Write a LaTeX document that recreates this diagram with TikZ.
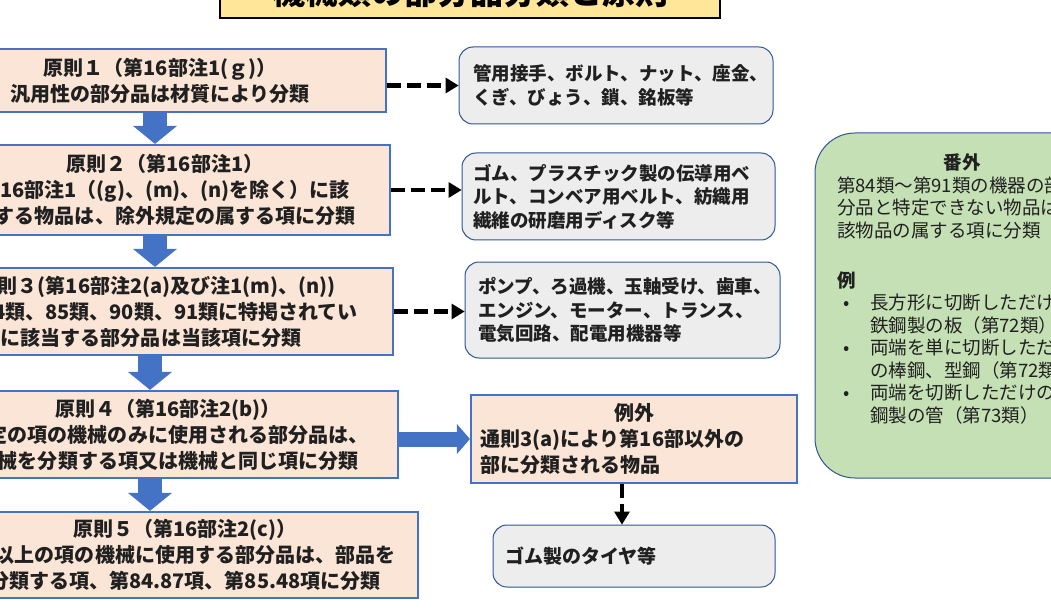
\documentclass[tikz,border=0pt]{standalone}
\usepackage{fontspec}
\setmainfont{Noto Sans CJK JP}
\usepackage{tikz}
\usetikzlibrary{arrows.meta}
\definecolor{peach}{HTML}{FBE5D6}
\definecolor{ruleblue}{HTML}{4472C4}
\definecolor{edgeblue}{HTML}{2F5597}
\definecolor{sgray}{HTML}{EDEDED}
\definecolor{bgreen}{HTML}{C5E0B4}
\definecolor{ttlyellow}{HTML}{FFE699}
\definecolor{ink}{HTML}{202020}
\newcommand{\bul}{\makebox[33pt][l]{\hspace{6pt}•}}
\newcommand{\ind}{\hspace*{33pt}}

\begin{document}
\begin{tikzpicture}[x=1pt,y=-1pt,
    rule/.style={shape=rectangle,draw=ruleblue,line width=2.2pt,fill=peach,text=ink,inner sep=0pt,
        font=\fontsize{20}{26}\selectfont\bfseries},
    sample/.style={shape=rectangle,rounded corners=14pt,draw=edgeblue,line width=1pt,fill=sgray,text=ink,
        inner sep=0pt,align=left,font=\fontsize{18.5}{23.5}\selectfont\bfseries},
    flow/.style={draw=ruleblue,line width=24pt,-{Triangle[length=18pt,width=44pt,line width=0pt]}},
    side/.style={draw=ruleblue,line width=15pt,-{Triangle[length=13pt,width=30pt,line width=0pt]}},
    hint/.style={draw=black,line width=4.5pt,dash pattern=on 14pt off 6pt,-{Triangle[length=13pt,width=16pt,line width=0pt]}}]
    \useasboundingbox (0,0) rectangle (1051,612);
    \clip (0,0) rectangle (1051,612);

    \node[shape=rectangle,draw=black,line width=2.2pt,fill=ttlyellow,minimum width=500pt,minimum height=52pt,
        font=\fontsize{33}{33}\selectfont\bfseries] (T_T) at (470,-8) {機械類の部分品分類と原則};

    \node[rule,minimum width=452pt,minimum height=63pt,text width=420pt,align=center] (R_1) at (160,80.5)
        {原則１（第16部注1(ｇ)）\\汎用性の部分品は材質により分類};
    \node[rule,minimum width=450pt,minimum height=90pt,text width=420pt,align=center] (R_2) at (165,190)
        {原則２（第16部注1）\\第16部注1（(g)、(m)、(n)を除く）に該\\当する物品は、除外規定の属する項に分類};
    \node[rule,minimum width=486pt,minimum height=87pt,text width=378pt,align=left] (R_3) at (150,311.5)
        {\hspace*{17pt}原則３(第16部注2(a)及び注1(m)、(n))\\第84類、85類、90類、91類に特掲されてい\\る項に該当する部分品は当該項に分類};
    \node[rule,minimum width=460pt,minimum height=87pt,text width=440pt,align=center] (R_4) at (168,434.5)
        {原則４（第16部注2(b)）\\特定の項の機械のみに使用される部分品は、\\機械を分類する項又は機械と同じ項に分類};
    \node[rule,minimum width=466pt,minimum height=86pt,text width=440pt,align=center] (R_5) at (185,555)
        {原則５（第16部注2(c)）\\二以上の項の機械に使用する部分品は、部品を\\分類する項、第84.87項、第85.48項に分類};

    \node[sample,minimum width=314pt,minimum height=77pt,text width=286pt] (G_1) at (616,85.5)
        {管用接手、ボルト、ナット、座金、\\くぎ、びょう、鎖、銘板等};
    \node[sample,minimum width=313pt,minimum height=87pt,text width=291pt] (G_2) at (618.5,196.5)
        {ゴム、プラスチック製の伝導用ベ\\ルト、コンベア用ベルト、紡織用\\繊維の研磨用ディスク等};
    \node[sample,minimum width=315pt,minimum height=96pt,text width=289pt] (G_3) at (622.5,310)
        {ポンプ、ろ過機、玉軸受け、歯車、\\エンジン、モーター、トランス、\\電気回路、配電用機器等};

    \node[rule,minimum width=326pt,minimum height=88pt,text width=308pt,align=left] (X_A) at (634,439)
        {\makebox[308pt]{例外}\\通則3(a)により第16部以外の\\部に分類される物品};
    \node[sample,minimum width=282pt,minimum height=62pt,text width=258pt,
        font=\fontsize{19}{23}\selectfont\bfseries] (X_T) at (634,556) {ゴム製のタイヤ等};

    \node[shape=rectangle,rounded corners=40pt,draw=edgeblue,line width=1pt,fill=bgreen,text=ink,
        inner xsep=22pt,inner ysep=12pt,font=\fontsize{18.5}{22.5}\selectfont] (B_G) at (962,305.5)
        {\parbox[c][321pt][t]{250pt}{\raggedright\vspace*{9pt}
        \makebox[250pt]{\bfseries 番外}\\
        第84類～第91類の機器の部\\
        分品と特定できない物品は当\\
        該物品の属する項に分類\\[27.5pt]
        {\bfseries 例}\\
        \bul 長方形に切断しただけの\\
        \ind 鉄鋼製の板（第72類）\\
        \bul 両端を単に切断しただけ\\
        \ind の棒鋼、型鋼（第72類）\\
        \bul 両端を切断しただけの鉄\\
        \ind 鋼製の管（第73類）}};

    \draw[flow] ([xshift=-5pt]R_1.south) -- ([xshift=-10pt]R_2.north);
    \draw[flow] ([xshift=-10pt]R_2.south) -- ([xshift=5pt]R_3.north);
    \draw[flow] (R_3.south) -- ([xshift=-18pt]R_4.north);
    \draw[flow] ([xshift=-18pt]R_4.south) -- ([xshift=-35pt]R_5.north);
    \draw[side] (R_4.east |- X_A.west) -- (X_A.west);

    \draw[hint] (R_1.east |- G_1.west) -- (G_1.west);
    \draw[hint] (R_2.east) -- (R_2.east -| G_2.west);
    \draw[hint] (R_3.east) -- (R_3.east -| G_3.west);
    \draw[hint] ([xshift=-12pt]X_A.south) -- ([xshift=-12pt]X_T.north);
\end{tikzpicture}
\end{document}
